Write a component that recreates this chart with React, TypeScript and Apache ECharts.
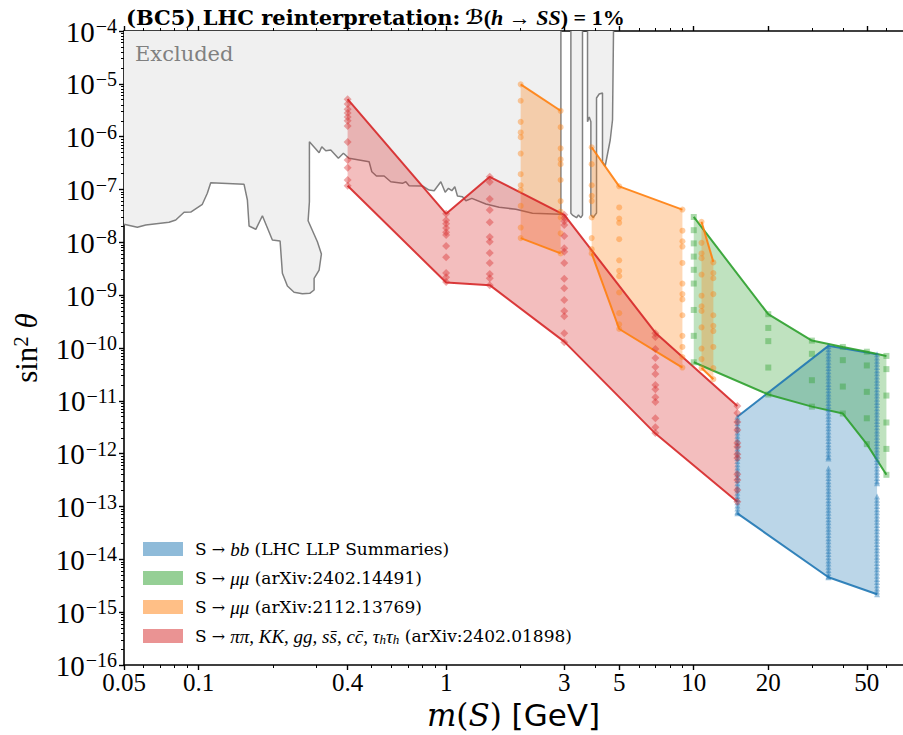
import React, { useEffect, useRef } from "react";
import * as echarts from "echarts";

// ---------------- axes ----------------
const xMin = 0.05;
const xMax = 70;
const yMinExp = -16;
const yMaxExp = -4;
const xTickValues = [0.05, 0.1, 0.4, 1, 3, 5, 10, 20, 50];
const xTickLabels = ["0.05", "0.1", "0.4", "1", "3", "5", "10", "20", "50"];
const xMinorTickValues = [0.06, 0.07, 0.08, 0.09, 0.2, 0.3, 0.5, 0.6, 0.7, 0.8, 0.9, 2, 4, 6, 7, 8, 9, 30, 40, 60];
const yMinorMultipliers = [2, 3, 4, 5, 6, 7, 8, 9];

// ---------------- excluded region: [mass (GeV), log10 sin^2 theta] ----------------
const excludedMain: [number, number][] = [
  [0.05, -4], [0.05, -7.659], [0.0566, -7.716], [0.0612, -7.672], [0.076, -7.621], [0.0809, -7.578],
  [0.0874, -7.432], [0.093, -7.426], [0.1036, -7.28], [0.1085, -7.072], [0.112, -6.871], [0.1527, -6.902],
  [0.1575, -7.199], [0.16, -7.691], [0.1703, -7.754], [0.1811, -7.496], [0.1987, -7.956], [0.2135, -7.975],
  [0.2181, -8.586], [0.2285, -8.827], [0.2431, -8.946], [0.2627, -8.973], [0.2813, -8.965], [0.2929, -8.902],
  [0.2929, -8.681], [0.3069, -8.524], [0.3135, -8.221], [0.302, -7.988], [0.277, -7.591], [0.2804, -7.231],
  [0.2804, -6.095], [0.3069, -6.304], [0.3146, -6.19], [0.3265, -6.266], [0.342, -6.252], [0.3671, -6.41],
  [0.3846, -6.315], [0.4056, -6.41], [0.4886, -6.474], [0.501, -6.663], [0.523, -6.745], [0.5617, -6.745],
  [0.5978, -6.853], [0.666, -6.883], [0.6874, -6.853], [0.7087, -6.928], [0.8022, -6.934], [0.8537, -7.01],
  [0.8944, -7.023], [0.9519, -6.853], [0.991, -7.053], [1.022, -6.977], [1.054, -7.023], [1.084, -6.947],
  [1.111, -7.123], [1.164, -7.136], [1.201, -7.212], [1.27, -7.167], [1.447, -7.275], [1.637, -7.337],
  [1.912, -7.375], [2.232, -7.451], [2.907, -7.47], [2.907, -4],
];
const excludedStrip: [number, number][] = [
  [3.19, -4], [3.19, -7.451], [3.237, -7.483], [3.361, -7.534], [3.423, -7.483], [3.501, -7.534], [3.554, -7.483], [3.554, -4],
];
const excludedFinger: [number, number][] = [
  [3.724, -4], [3.724, -5.717], [3.783, -5.628], [3.842, -5.717], [3.842, -7.483], [3.926, -7.53], [4.049, -7.445],
  [4.049, -5.268], [4.151, -5.193], [4.28, -5.174], [4.28, -6.48], [4.389, -6.555], [4.599, -6.063], [4.698, -5.685], [4.742, -4],
];

// ---------------- S -> bb (LHC LLP Summaries) ----------------
const bbMass = [15, 35, 55];
const bbUpperLog = [-11.3, -9.96, -10.12];
const bbLowerLog = [-13.13, -14.34, -14.66];
const bbScan15 = [-11.3, -11.36, -11.42, -11.48, -11.54, -11.6, -11.66, -11.72, -11.78, -11.84, -11.9, -11.96, -12.02, -12.08, -12.14, -12.2, -12.26, -12.32, -12.38, -12.44, -12.5, -12.56, -12.62, -12.68, -12.74, -12.8, -12.86, -12.92, -12.98, -13.04, -13.1, -13.13];
const bbScan35 = [-9.96, -10.02, -10.08, -10.14, -10.2, -10.26, -10.32, -10.38, -10.44, -10.5, -10.56, -10.62, -10.68, -10.74, -10.8, -10.86, -10.92, -10.98, -11.04, -11.1, -11.16, -11.22, -11.28, -11.34, -11.4, -11.46, -11.52, -11.58, -11.64, -11.7, -11.76, -11.82, -11.88, -11.94, -12.0, -12.06, -12.09,
  -12.28, -12.34, -12.4, -12.46, -12.52, -12.58, -12.64, -12.7, -12.76, -12.82, -12.88, -12.94, -13.0, -13.06, -13.12, -13.18, -13.24, -13.3, -13.36, -13.42, -13.48, -13.54, -13.6, -13.66, -13.72, -13.78, -13.84, -13.9, -13.96, -14.02, -14.08, -14.14, -14.2, -14.26, -14.32, -14.34];
const bbScan55 = [-10.12, -10.18, -10.24, -10.3, -10.36, -10.42, -10.48, -10.54, -10.6, -10.66, -10.72, -10.78, -10.84, -10.9, -10.96, -11.02, -11.08, -11.14, -11.2, -11.26, -11.32, -11.38, -11.44, -11.5, -11.56, -11.62, -11.68, -11.74, -11.8, -11.86, -11.92, -11.98, -12.04, -12.1, -12.16, -12.22, -12.28, -12.34, -12.4, -12.46, -12.52, -12.56,
  -12.81, -12.87, -12.93, -12.99, -13.05, -13.11, -13.17, -13.23, -13.29, -13.35, -13.41, -13.47, -13.53, -13.59, -13.65, -13.71, -13.77, -13.83, -13.89, -13.95, -14.01, -14.07, -14.13, -14.19, -14.25, -14.31, -14.37, -14.43, -14.49, -14.55, -14.61, -14.66];

// ---------------- S -> mumu (arXiv:2402.14491) ----------------
const mmMass = [10, 20, 30, 40, 50, 60];
const mmUpperLog = [-7.52, -9.36, -9.86, -9.98, -10.07, -10.15];
const mmLowerLog = [-10.27, -10.88, -11.11, -11.24, -11.82, -12.4];
const mmScan10 = [-7.52, -7.77, -8.02, -8.27, -8.52, -8.78, -9.28, -9.77, -10.27];
const mmScan20 = [-9.36, -9.62, -9.87, -10.37, -10.88];
const mmScan30 = [-9.86, -10.11, -10.61, -11.11];
const mmScan40 = [-9.98, -10.23, -10.73, -11.24];
const mmScan50 = [-10.07, -10.33, -10.83, -11.33, -11.82];
const mmScan60 = [-10.15, -10.4, -10.9, -11.41, -11.91, -12.4];

// ---------------- S -> mumu (arXiv:2112.13769) ----------------
const muMassA = [2.0, 2.9];
const muUpperLogA = [-5.01, -5.51];
const muLowerLogA = [-7.92, -8.21];
const muMassB = [3.87, 5, 9];
const muUpperLogB = [-6.2, -6.94, -7.38];
const muLowerLogB = [-8.21, -9.64, -10.37];
const muMassC = [10.75, 12];
const muUpperLogC = [-7.61, -8.37];
const muLowerLogC = [-10.38, -10.59];
const muScan2 = [-5.01, -5.32, -5.72, -5.92, -6.01, -6.32, -6.71, -6.92, -7.01, -7.31, -7.72, -7.92];
const muScan29 = [-5.51, -5.82, -6.22, -6.43, -6.52, -6.82, -7.22, -7.42, -7.53, -7.83, -8.21];
const muScan387 = [-6.2, -6.52, -6.92, -7.12, -7.22, -7.53, -7.92, -8.13, -8.21];
const muScan5 = [-6.94, -7.34, -7.55, -7.63, -7.94, -8.34, -8.54, -8.64, -8.95, -9.34, -9.55, -9.64];
const muScan9 = [-7.38, -7.78, -7.98, -8.08, -8.39, -8.78, -8.98, -9.08, -9.38, -9.77, -9.98, -10.17, -10.37];
const muScan1075 = [-7.61, -8.01, -8.21, -8.3, -8.61, -9.01, -9.21, -9.3, -9.61, -10.01, -10.21, -10.38];
const muScan12 = [-8.38, -8.58, -8.68, -8.98, -9.38, -9.58, -9.68, -9.98, -10.38, -10.59];

// ---------------- S -> pipi, KK, gg, ... (arXiv:2402.01898) ----------------
const hadMass = [0.4, 1, 1.5, 3, 7, 15];
const hadUpperLog = [-5.29, -7.46, -6.76, -7.48, -9.71, -11.1];
const hadLowerLog = [-6.93, -8.76, -8.81, -9.88, -11.62, -12.91];
const hadScan04 = [-5.29, -5.38, -5.48, -5.55, -5.63, -5.7, -5.8, -6.1, -6.44, -6.59, -6.82, -6.93];
const hadScan1 = [-7.46, -7.58, -7.65, -7.73, -7.81, -7.86, -8.07, -8.28, -8.58, -8.66, -8.75];
const hadScan15 = [-6.76, -6.86, -7.18, -7.39, -7.62, -7.9, -7.99, -8.2, -8.39, -8.6, -8.68, -8.81];
const hadScan3 = [-7.48, -7.54, -7.6, -7.67, -7.88, -8.11, -8.18, -8.39, -8.69, -8.87, -9.09, -9.3, -9.4, -9.72, -9.89];
const hadScan7 = [-9.72, -9.79, -10.02, -10.19, -10.36, -10.49, -10.7, -10.78, -10.93, -11.02, -11.33, -11.5, -11.61];
const hadScan15GeV = [-11.1, -11.23, -11.4, -11.55, -11.8, -11.87, -12.01, -12.08, -12.39, -12.5, -12.69, -12.91];

// ---------------- styling ----------------
const BLUE = "31,119,180";
const GREEN = "44,160,44";
const ORANGE = "255,127,14";
const RED = "214,39,40";
const SERIF = '"Liberation Serif", "DejaVu Serif", serif';
const DJS = '"DejaVu Serif", serif';

const NAME_BB = "bb";
const NAME_MM1 = "mm1";
const NAME_MM2 = "mm2";
const NAME_HAD = "had";

const lg = Math.log10;

function fillSeries(name: string, pts: [number, number][], fill: string, z: number) {
  return {
    type: "custom",
    name,
    coordinateSystem: "cartesian2d",
    xAxisIndex: 0,
    yAxisIndex: 0,
    clip: true,
    silent: true,
    z,
    data: [[lg(pts[0][0]), pts[0][1]]],
    renderItem: (_p: any, api: any) => ({
      type: "polygon",
      shape: { points: pts.map((p) => api.coord([lg(p[0]), p[1]])) },
      style: { fill, stroke: "none" },
    }),
  };
}

function lineSeries(name: string, pts: [number, number][], color: string, width: number, z: number) {
  return {
    type: "line",
    name,
    xAxisIndex: 0,
    yAxisIndex: 0,
    data: pts.map((p) => [lg(p[0]), p[1]]),
    symbol: "none",
    clip: true,
    silent: true,
    z,
    lineStyle: { color, width },
  };
}

function bandPolygon(mass: number[], upper: number[], lower: number[]): [number, number][] {
  const up = mass.map((m, i) => [m, upper[i]] as [number, number]);
  const lo = mass.map((m, i) => [m, lower[i]] as [number, number]).reverse();
  return up.concat(lo);
}

function bandSeries(name: string, rgb: string, mass: number[], upper: number[], lower: number[], z: number) {
  return [
    fillSeries(name, bandPolygon(mass, upper, lower), `rgba(${rgb},0.3)`, z),
    lineSeries(name + "-up", mass.map((m, i) => [m, upper[i]] as [number, number]), `rgba(${rgb},0.9)`, 2, z + 1),
    lineSeries(name + "-lo", mass.map((m, i) => [m, lower[i]] as [number, number]), `rgba(${rgb},0.9)`, 2, z + 1),
  ];
}

function scanSeries(name: string, rgb: string, cols: { m: number; v: number[] }[], symbol: string, size: number, opacity: number, z: number) {
  const data: number[][] = [];
  cols.forEach((c) => c.v.forEach((v) => data.push([lg(c.m), v])));
  return {
    type: "scatter",
    name,
    xAxisIndex: 0,
    yAxisIndex: 0,
    data,
    symbol,
    symbolSize: size,
    clip: true,
    silent: true,
    z,
    itemStyle: { color: `rgba(${rgb},${opacity})` },
  };
}

const legendLabels: Record<string, string> = {
  [NAME_BB]: "{r|S}{a| → }{i|bb}{r| (LHC LLP Summaries)}",
  [NAME_MM1]: "{r|S}{a| → }{i|μμ}{r| (arXiv:2402.14491)}",
  [NAME_MM2]: "{r|S}{a| → }{i|μμ}{r| (arXiv:2112.13769)}",
  [NAME_HAD]: "{r|S}{a| → }{i|ππ, KK, gg, ss\u0304, cc\u0304, τ}{sub|h}{i|τ}{sub|h}{r| (arXiv:2402.01898)}",
};

export default function App() {
  const ref = useRef<HTMLDivElement>(null);
  useEffect(() => {
    document.body.style.margin = "0";
    if (!ref.current) return;
    const chart = echarts.init(ref.current, null, { renderer: "svg" });

    const yMinor: number[] = [];
    for (let n = yMinExp; n < yMaxExp; n++) yMinorMultipliers.forEach((k) => yMinor.push(n + lg(k)));
    const xMajorLog = xTickValues.map(lg);
    const xMinorLog = xMinorTickValues.map(lg);

    const xBase = { type: "value", min: lg(xMin), max: lg(xMax), gridIndex: 0, splitLine: { show: false } };
    const tickLabelFor = (v: number) => {
      const i = xMajorLog.findIndex((t) => Math.abs(t - v) < 1e-6);
      return i >= 0 ? xTickLabels[i] : "";
    };
    const spine = { show: true, onZero: false, lineStyle: { color: "#000", width: 1.6 } };
    const noSpine = { show: false, onZero: false };

    const series: any[] = [
      fillSeries("excl-main", excludedMain, "#f0f0f0", 1),
      fillSeries("excl-strip", excludedStrip, "#f0f0f0", 1),
      fillSeries("excl-finger", excludedFinger, "#f0f0f0", 1),
      lineSeries("excl-main-edge", excludedMain.slice(1), "#808080", 1.5, 2),
      lineSeries("excl-strip-edge", excludedStrip, "#808080", 1.5, 2),
      lineSeries("excl-finger-edge", excludedFinger, "#808080", 1.5, 2),
      ...bandSeries(NAME_BB, BLUE, bbMass, bbUpperLog, bbLowerLog, 3),
      ...bandSeries(NAME_MM1, GREEN, mmMass, mmUpperLog, mmLowerLog, 3),
      ...bandSeries(NAME_MM2, ORANGE, muMassA, muUpperLogA, muLowerLogA, 3),
      ...bandSeries(NAME_MM2, ORANGE, muMassB, muUpperLogB, muLowerLogB, 3),
      ...bandSeries(NAME_MM2, ORANGE, muMassC, muUpperLogC, muLowerLogC, 3),
      ...bandSeries(NAME_HAD, RED, hadMass, hadUpperLog, hadLowerLog, 3),
      scanSeries("bb-scan", BLUE, [{ m: 15, v: bbScan15 }, { m: 35, v: bbScan35 }, { m: 55, v: bbScan55 }], "triangle", 6, 0.55, 6),
      scanSeries("mm1-scan", GREEN, [
        { m: 10, v: mmScan10 }, { m: 20, v: mmScan20 }, { m: 30, v: mmScan30 },
        { m: 40, v: mmScan40 }, { m: 50, v: mmScan50 }, { m: 60, v: mmScan60 },
      ], "rect", 6, 0.5, 6),
      scanSeries("mm2-scan", ORANGE, [
        { m: 2.0, v: muScan2 }, { m: 2.9, v: muScan29 }, { m: 3.87, v: muScan387 }, { m: 5, v: muScan5 },
        { m: 9, v: muScan9 }, { m: 10.75, v: muScan1075 }, { m: 12, v: muScan12 },
      ], "circle", 6, 0.5, 6),
      scanSeries("had-scan", RED, [
        { m: 0.4, v: hadScan04 }, { m: 1, v: hadScan1 }, { m: 1.5, v: hadScan15 },
        { m: 3, v: hadScan3 }, { m: 7, v: hadScan7 }, { m: 15, v: hadScan15GeV },
      ], "diamond", 8, 0.5, 6),
    ];

    const legendRich = {
      r: { fontFamily: DJS, fontSize: 17, color: "#000" },
      a: { fontFamily: DJS, fontSize: 16, color: "#000" },
      i: { fontFamily: SERIF, fontStyle: "italic", fontSize: 19, color: "#000" },
      sub: { fontFamily: SERIF, fontStyle: "italic", fontSize: 13, color: "#000", verticalAlign: "bottom", lineHeight: 14, padding: [6, 0, 0, 0] },
    };

    chart.setOption({
      animation: false,
      grid: { left: 124, right: 0, top: 31, bottom: 70, outerBoundsMode: "none", containLabel: false },
      title: {
        left: 121,
        top: 1,
        text: "{b|(BC5) LHC reinterpretation:} {c|ℬ}{r|(}{i|h}{r| → }{i|SS}{r|) = 1%}",
        textStyle: {
          rich: {
            b: { fontFamily: DJS, fontWeight: "bold", fontSize: 21, color: "#000" },
            c: { fontFamily: '"DejaVu Sans", sans-serif', fontSize: 20, color: "#000" },
            r: { fontFamily: SERIF, fontSize: 22, color: "#000" },
            i: { fontFamily: SERIF, fontStyle: "italic", fontSize: 22, color: "#000" },
          },
        },
      },
      legend: {
        left: 138,
        top: 534,
        orient: "vertical",
        itemWidth: 40,
        itemHeight: 14,
        itemGap: 9,
        selectedMode: false,
        icon: "rect",
        data: [
          { name: NAME_BB, itemStyle: { color: `rgba(${BLUE},0.5)` } },
          { name: NAME_MM1, itemStyle: { color: `rgba(${GREEN},0.5)` } },
          { name: NAME_MM2, itemStyle: { color: `rgba(${ORANGE},0.5)` } },
          { name: NAME_HAD, itemStyle: { color: `rgba(${RED},0.5)` } },
        ],
        formatter: (n: string) => legendLabels[n] || n,
        textStyle: { lineHeight: 20, padding: [0, 0, 0, 7], rich: legendRich },
      },
      xAxis: [
        {
          ...xBase,
          position: "bottom",
          axisLine: spine,
          axisTick: { show: true, length: 5, customValues: xMajorLog, lineStyle: { color: "#000", width: 1.4 } },
          axisLabel: {
            show: true,
            customValues: xMajorLog,
            formatter: tickLabelFor,
            fontFamily: SERIF,
            fontSize: 25,
            color: "#000",
            margin: 5,
          },
          name: "{i|m}{r|(}{i|S}{r|)}{s| [GeV]}",
          nameLocation: "middle",
          nameGap: 30,
          nameTextStyle: {
            rich: {
              i: { fontFamily: DJS, fontStyle: "italic", fontSize: 31, color: "#000" },
              r: { fontFamily: DJS, fontSize: 31, color: "#000" },
              s: { fontFamily: '"DejaVu Sans", sans-serif', fontSize: 31, color: "#000" },
            },
          },
        },
        {
          ...xBase,
          position: "bottom",
          axisLine: noSpine,
          axisTick: { show: true, length: 3, customValues: xMinorLog, lineStyle: { color: "#000", width: 1 } },
          axisLabel: { show: false },
        },
        {
          ...xBase,
          position: "top",
          axisLine: spine,
          axisTick: { show: true, length: 5, customValues: xMajorLog, lineStyle: { color: "#000", width: 1.4 } },
          axisLabel: { show: false },
        },
        {
          ...xBase,
          position: "top",
          axisLine: noSpine,
          axisTick: { show: true, length: 3, customValues: xMinorLog, lineStyle: { color: "#000", width: 1 } },
          axisLabel: { show: false },
        },
      ],
      yAxis: [
        {
          type: "value",
          min: yMinExp,
          max: yMaxExp,
          interval: 1,
          position: "left",
          splitLine: { show: false },
          axisLine: spine,
          axisTick: { show: true, length: 5, lineStyle: { color: "#000", width: 1.4 } },
          axisLabel: {
            margin: 7,
            formatter: (v: number) => `{b|10}{s|−${Math.round(-v)}}`,
            rich: {
              b: { fontFamily: SERIF, fontSize: 29, color: "#000", verticalAlign: "bottom", lineHeight: 30 },
              s: { fontFamily: SERIF, fontSize: 20, color: "#000", verticalAlign: "top", lineHeight: 18, padding: [0, 0, 0, 1] },
            },
          },
          name: "{r|sin}{s|2}{r| }{i|θ}",
          nameLocation: "middle",
          nameRotate: 90,
          nameGap: 82,
          nameTextStyle: {
            rich: {
              r: { fontFamily: SERIF, fontSize: 31, color: "#000", verticalAlign: "bottom", lineHeight: 32 },
              s: { fontFamily: SERIF, fontSize: 21, color: "#000", verticalAlign: "top", lineHeight: 18 },
              i: { fontFamily: SERIF, fontStyle: "italic", fontSize: 31, color: "#000", verticalAlign: "bottom", lineHeight: 32 },
            },
          },
        },
        {
          type: "value",
          min: yMinExp,
          max: yMaxExp,
          interval: 1,
          position: "left",
          splitLine: { show: false },
          axisLine: noSpine,
          axisTick: { show: true, length: 3, customValues: yMinor, lineStyle: { color: "#000", width: 1 } },
          axisLabel: { show: false },
        },
      ],
      graphic: [
        {
          type: "text",
          left: 135,
          top: 43,
          z: 100,
          style: { text: "Excluded", fill: "#808080", font: '21px "DejaVu Serif", serif' },
        },
      ],
      series,
    });
    return () => chart.dispose();
  }, []);
  return <div ref={ref} style={{ width: 903, height: 735 }} />;
}
